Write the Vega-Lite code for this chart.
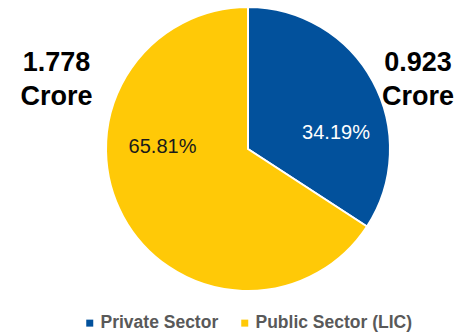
{
  "$schema": "https://vega.github.io/schema/vega-lite/v6.json",
  "width": 416,
  "height": 298,
  "autosize": {"type": "none"},
  "padding": {"left": 40, "top": 0, "right": 0, "bottom": 36},
  "background": "white",
  "config": {"view": {"stroke": null}, "font": "Liberation Sans"},
  "data": {
    "values": [
      {"sector": "Private Sector", "share": 0.3419, "amount": "0.923 Crore"},
      {"sector": "Public Sector (LIC)", "share": 0.6581, "amount": "1.778 Crore"}
    ]
  },
  "layer": [
    {
      "mark": {"type": "arc", "outerRadius": 142, "stroke": "white", "strokeWidth": 2},
      "encoding": {
        "theta": {"field": "share", "type": "quantitative", "stack": true},
        "color": {
          "field": "sector",
          "type": "nominal",
          "scale": {"domain": ["Private Sector", "Public Sector (LIC)"], "range": ["#02519C", "#FFC907"]},
          "legend": {
            "orient": "none",
            "legendX": 41,
            "legendY": 314,
            "direction": "horizontal",
            "title": null,
            "symbolType": "square",
            "symbolSize": 49,
            "symbolStrokeWidth": 0,
            "labelFont": "Liberation Sans",
            "labelFontSize": 17.5,
            "labelFontWeight": "bold",
            "labelColor": "#595959",
            "labelLimit": 400,
            "columnPadding": 17,
            "labelOffset": 2,
            "padding": 0
          }
        }
      }
    },
    {
      "transform": [{"filter": "datum.sector === 'Private Sector'"}],
      "mark": {"type": "text", "dx": 88, "dy": -16, "fontSize": 20, "color": "white", "baseline": "middle", "align": "center"},
      "encoding": {"text": {"field": "share", "type": "quantitative", "format": ".2%"}}
    },
    {
      "transform": [{"filter": "datum.sector === 'Public Sector (LIC)'"}],
      "mark": {"type": "text", "dx": -85.5, "dy": -2.5, "fontSize": 20, "color": "#1a1a1a", "baseline": "middle", "align": "center"},
      "encoding": {"text": {"field": "share", "type": "quantitative", "format": ".2%"}}
    },
    {
      "transform": [{"filter": "datum.sector === 'Private Sector'"}],
      "mark": {"type": "text", "dx": 170, "dy": -86, "fontSize": 27, "fontWeight": "bold", "color": "#000000", "baseline": "middle", "align": "center", "lineBreak": " ", "lineHeight": 34},
      "encoding": {"text": {"field": "amount", "type": "nominal"}}
    },
    {
      "transform": [{"filter": "datum.sector === 'Public Sector (LIC)'"}],
      "mark": {"type": "text", "dx": -191.5, "dy": -86, "fontSize": 27, "fontWeight": "bold", "color": "#000000", "baseline": "middle", "align": "center", "lineBreak": " ", "lineHeight": 34},
      "encoding": {"text": {"field": "amount", "type": "nominal"}}
    }
  ]
}
